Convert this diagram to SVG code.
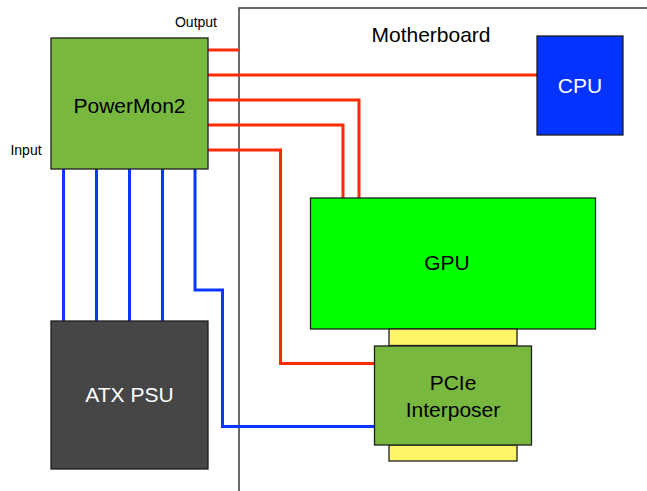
<svg xmlns="http://www.w3.org/2000/svg" width="647" height="491" viewBox="0 0 647 491">
<style>
.box{stroke:#1e1e1e;stroke-width:1.3}
.t{font-family:"Liberation Sans",Arial,sans-serif;text-anchor:middle}
.red{fill:none;stroke:#ff2a00;stroke-width:3}
.blue{fill:none;stroke:#0a36ff;stroke-width:3}
</style>
<rect width="647" height="491" fill="#fff"/>
<g id="motherboard">
<rect x="239" y="8" width="420" height="500" fill="none" stroke="#3a3a3a" stroke-width="1.5"/>
<text class="t" x="431" y="42" font-size="21" fill="#000">Motherboard</text>
</g>
<g id="connectors">
<path class="red" d="M208 50H239"/>
<path class="red" d="M208 75H537"/>
<path class="red" d="M208 100H359V198"/>
<path class="red" d="M208 125H343V198"/>
<path class="red" d="M208 150H280.5V363.5H374"/>
<path class="blue" d="M63.5 169V321M96.5 169V321M129.5 169V321M162.5 169V321"/>
<path class="blue" d="M195 169V290H222.5V426.5H374"/>
</g>
<g id="powermon2">
<rect class="box" x="51" y="38" width="157" height="131" fill="#78b83f"/>
<text class="t" x="129.5" y="113" font-size="21" fill="#000">PowerMon2</text>
</g>
<g id="output-label"><text class="t" x="196" y="27" font-size="14" fill="#000">Output</text></g>
<g id="input-label"><text class="t" x="26" y="155" font-size="14" fill="#000">Input</text></g>
<g id="cpu">
<rect class="box" x="537" y="36" width="86" height="99" fill="#0433ff"/>
<text class="t" x="580" y="93" font-size="21" fill="#fff">CPU</text>
</g>
<g id="gpu">
<rect class="box" x="310.5" y="198" width="285" height="131" fill="#00ff00"/>
<text class="t" x="447" y="270" font-size="21" fill="#000">GPU</text>
</g>
<g id="slot-top"><rect class="box" x="389" y="329" width="128" height="16.5" fill="#fff566"/></g>
<g id="slot-bottom"><rect class="box" x="389" y="445" width="128" height="16" fill="#fff566"/></g>
<g id="pcie-interposer">
<rect class="box" x="374.5" y="346" width="157" height="99" fill="#78b83f"/>
<text class="t" x="453" y="390" font-size="21" fill="#000">PCIe</text>
<text class="t" x="453" y="417" font-size="21" fill="#000">Interposer</text>
</g>
<g id="atx-psu">
<rect class="box" x="51" y="321" width="157" height="148" fill="#464646"/>
<text class="t" x="129.5" y="402" font-size="21" fill="#fff">ATX PSU</text>
</g>
</svg>
